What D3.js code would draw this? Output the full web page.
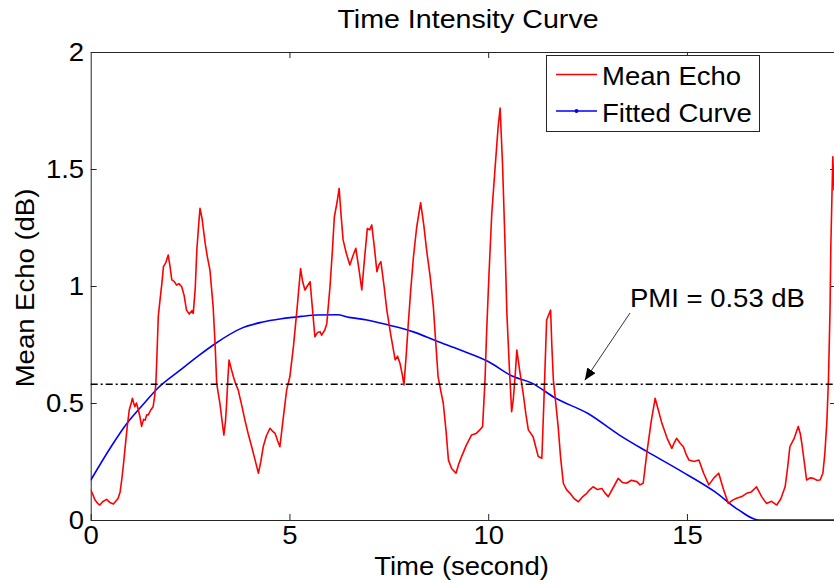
<!DOCTYPE html>
<html>
<head>
<meta charset="utf-8">
<script src="https://cdn.jsdelivr.net/npm/d3@7"></script>
<style>
  html, body { margin: 0; padding: 0; background: #fff; overflow: hidden; }
  svg text { font-family: "Liberation Sans", Arial, Helvetica, sans-serif; fill: #000; }
</style>
</head>
<body>
<svg id="chart" width="834" height="583"></svg>
<script>
// ---------- data ----------
const chartTitle = "Time Intensity Curve";
const xLabel = "Time (second)";
const yLabel = "Mean Echo (dB)";
const seriesNames = ["Mean Echo", "Fitted Curve"];
const xTicks = [0, 5, 10, 15];
const yTicks = [0, 0.5, 1, 1.5, 2];
const xDomain = [0, 18.75];
const yDomain = [0, 2];
const pmiLevel = 0.58;
const pmiText = "PMI = 0.53 dB";

const echoTime = [0.00,0.05,0.11,0.18,0.23,0.30,0.40,0.48,0.57,0.63,0.69,0.74,0.78,0.82,0.86,0.92,0.97,1.02,1.05,1.08,1.11,1.15,1.20,1.24,1.28,1.33,1.37,1.41,1.45,1.51,1.57,1.61,1.64,1.67,1.70,1.75,1.79,1.83,1.89,1.95,1.99,2.04,2.10,2.16,2.22,2.29,2.35,2.41,2.48,2.55,2.58,2.63,2.67,2.72,2.75,2.80,2.88,2.94,3.00,3.04,3.08,3.13,3.17,3.21,3.25,3.30,3.35,3.39,3.42,3.45,3.48,3.53,3.59,3.65,3.71,3.80,3.88,3.96,4.05,4.13,4.22,4.28,4.34,4.42,4.51,4.57,4.64,4.70,4.76,4.84,4.93,5.01,5.10,5.19,5.28,5.33,5.39,5.45,5.52,5.58,5.64,5.70,5.77,5.81,5.89,5.94,6.02,6.08,6.13,6.20,6.25,6.30,6.35,6.43,6.52,6.60,6.67,6.75,6.82,6.89,6.96,7.02,7.07,7.14,7.20,7.25,7.30,7.38,7.45,7.55,7.66,7.72,7.78,7.84,7.88,7.94,7.99,8.05,8.12,8.20,8.30,8.38,8.45,8.54,8.62,8.68,8.74,8.81,8.87,8.94,9.00,9.08,9.19,9.26,9.33,9.45,9.58,9.70,9.79,9.86,9.92,9.96,10.02,10.09,10.18,10.25,10.30,10.36,10.42,10.47,10.53,10.59,10.63,10.68,10.72,10.80,10.88,10.95,11.01,11.13,11.20,11.26,11.35,11.40,11.47,11.57,11.60,11.64,11.70,11.76,11.82,11.89,11.97,12.06,12.17,12.27,12.38,12.48,12.56,12.64,12.75,12.86,12.94,13.02,13.15,13.27,13.38,13.48,13.60,13.74,13.82,13.90,13.99,14.10,14.20,14.28,14.37,14.50,14.62,14.68,14.74,14.82,14.91,14.98,15.05,15.18,15.30,15.42,15.55,15.68,15.80,15.92,16.04,16.15,16.25,16.38,16.50,16.62,16.75,16.88,17.00,17.13,17.26,17.36,17.47,17.53,17.59,17.70,17.80,17.85,17.89,17.95,18.01,18.10,18.18,18.27,18.35,18.42,18.47,18.52,18.56,18.60,18.62,18.65,18.67,18.70,18.75];
const echoValue = [0.13,0.11,0.085,0.07,0.064,0.078,0.088,0.075,0.068,0.08,0.093,0.12,0.171,0.23,0.30,0.40,0.47,0.50,0.52,0.50,0.484,0.50,0.47,0.44,0.40,0.43,0.427,0.45,0.449,0.47,0.484,0.53,0.584,0.72,0.869,0.95,1.01,1.083,1.10,1.132,1.09,1.026,1.02,1.004,1.01,0.997,0.96,0.897,0.88,0.895,0.883,0.99,1.154,1.27,1.332,1.29,1.182,1.12,1.068,0.99,0.912,0.75,0.584,0.54,0.499,0.43,0.363,0.42,0.499,0.60,0.684,0.65,0.612,0.58,0.556,0.49,0.427,0.37,0.313,0.26,0.20,0.25,0.313,0.36,0.392,0.38,0.37,0.34,0.313,0.43,0.556,0.612,0.741,0.90,1.075,1.02,0.983,1.00,1.018,0.90,0.783,0.80,0.805,0.79,0.812,0.84,0.997,1.15,1.296,1.36,1.417,1.30,1.197,1.14,1.09,1.13,1.161,1.07,0.983,1.12,1.246,1.24,1.261,1.16,1.061,1.09,1.104,1.00,0.897,0.79,0.684,0.70,0.67,0.62,0.577,0.71,0.84,0.98,1.125,1.25,1.356,1.26,1.154,1.04,0.912,0.76,0.612,0.55,0.499,0.38,0.256,0.22,0.20,0.24,0.271,0.32,0.363,0.37,0.385,0.40,0.598,0.80,1.05,1.31,1.52,1.68,1.76,1.524,1.20,0.883,0.66,0.463,0.513,0.62,0.726,0.63,0.541,0.45,0.385,0.356,0.31,0.271,0.264,0.50,0.855,0.897,0.75,0.598,0.50,0.399,0.27,0.157,0.13,0.114,0.09,0.078,0.10,0.114,0.13,0.142,0.13,0.135,0.115,0.10,0.14,0.178,0.16,0.157,0.17,0.164,0.15,0.157,0.285,0.42,0.52,0.47,0.413,0.35,0.306,0.33,0.349,0.33,0.313,0.28,0.256,0.25,0.256,0.20,0.15,0.18,0.20,0.13,0.071,0.085,0.093,0.10,0.114,0.12,0.142,0.10,0.071,0.08,0.064,0.09,0.142,0.22,0.313,0.35,0.40,0.37,0.328,0.25,0.171,0.18,0.178,0.17,0.171,0.20,0.285,0.42,0.598,0.90,1.168,1.40,1.552,1.41,1.45];

const fitTime = [0,0.5,0.9,1.3,1.7,2.25,2.7,3.1,3.8,4.3,4.8,5.3,5.7,6.2,6.5,6.95,7.5,8.1,8.7,9.3,10.0,10.6,11.1,11.7,12.5,13.3,14.0,14.8,15.7,16.3,16.8,18.75];
const fitValue = [0.17,0.31,0.41,0.49,0.565,0.64,0.70,0.75,0.82,0.845,0.86,0.87,0.876,0.877,0.866,0.855,0.833,0.805,0.765,0.726,0.677,0.615,0.585,0.52,0.456,0.363,0.292,0.214,0.121,0.043,0,0];

// ---------- layout ----------
const svg = d3.select("#chart");
const plotLeft = 90.7, plotRight = 836, plotTop = 52, plotBottom = 520;
const fs = 25, sx = 1.1;
const axisColor = "#262626";

const x = d3.scaleLinear().domain(xDomain).range([plotLeft, plotRight]);
const y = d3.scaleLinear().domain(yDomain).range([plotBottom, plotTop]);

const defs = svg.append("defs");
defs.append("clipPath").attr("id", "plotclip")
  .append("rect").attr("x", plotLeft).attr("y", plotTop).attr("width", plotRight - plotLeft).attr("height", plotBottom - plotTop);

// axes
function styleAxis(g) {
  g.select(".domain").attr("stroke", axisColor).attr("stroke-width", 1);
  g.selectAll(".tick line").attr("stroke", axisColor).attr("stroke-width", 1);
  g.selectAll(".tick text").attr("font-size", fs).attr("fill", "#000")
    .attr("font-family", "'Liberation Sans', Arial, sans-serif")
    .attr("transform", `scale(${sx},1)`);
}
const fmt = d => String(d);
svg.append("g").attr("transform", `translate(0,${plotBottom})`)
  .call(d3.axisBottom(x).tickValues(xTicks).tickFormat(fmt).tickSizeInner(-6).tickSizeOuter(0).tickPadding(6))
  .call(styleAxis);
svg.append("g").attr("transform", `translate(0,${plotTop})`)
  .call(d3.axisTop(x).tickValues(xTicks.filter(d => d > 0)).tickFormat("").tickSizeInner(-6).tickSizeOuter(0))
  .call(styleAxis);
svg.append("g").attr("transform", `translate(${plotLeft},0)`)
  .call(d3.axisLeft(y).tickValues(yTicks).tickFormat(fmt).tickSizeInner(-6).tickSizeOuter(0).tickPadding(6))
  .call(styleAxis);
svg.append("g").attr("transform", `translate(${plotRight},0)`)
  .call(d3.axisRight(y).tickValues(yTicks.filter(d => d > 0 && d < 2)).tickFormat("").tickSizeInner(-6).tickSizeOuter(0))
  .call(styleAxis);

// data lines
const plot = svg.append("g").attr("clip-path", "url(#plotclip)");
const echoData = echoTime.map((t, i) => [t, echoValue[i]]);
const fitData = fitTime.map((t, i) => [t, fitValue[i]]);
const line = d3.line().x(d => x(d[0])).y(d => y(d[1]));
const smoothLine = d3.line().x(d => x(d[0])).y(d => y(d[1])).curve(d3.curveMonotoneX);

plot.append("path").datum(fitData).attr("d", smoothLine)
  .attr("fill", "none").attr("stroke", "#0000ff").attr("stroke-width", 1.6);
plot.append("path").datum(echoData).attr("d", line)
  .attr("fill", "none").attr("stroke", "#ff0000").attr("stroke-width", 1.6).attr("stroke-linejoin", "round");

// PMI dash-dot line
svg.append("line")
  .attr("x1", plotLeft).attr("x2", plotRight).attr("y1", y(pmiLevel)).attr("y2", y(pmiLevel))
  .attr("stroke", "#000").attr("stroke-width", 1.5).attr("stroke-dasharray", "7,3,2,3");

// title & labels
function addText(txt, px, py, anchor, size, rot) {
  const g = svg.append("g").attr("transform", `translate(${px},${py})` + (rot ? ` rotate(${rot})` : ""));
  g.append("text").attr("text-anchor", anchor).attr("font-size", size)
    .attr("transform", `scale(${sx},1)`).text(txt);
  return g;
}
addText(chartTitle, 468, 28, "middle", 26);
addText(xLabel, 461.5, 575, "middle", fs);
addText(yLabel, 33.5, 288, "middle", fs, -90);

// PMI annotation
addText(pmiText, 630, 306.5, "start", fs);
defs.append("marker").attr("id", "arrowhead")
  .attr("viewBox", "0 0 12 10").attr("refX", 12).attr("refY", 5)
  .attr("markerWidth", 12).attr("markerHeight", 10).attr("markerUnits", "userSpaceOnUse")
  .attr("orient", "auto")
  .append("path").attr("d", "M0,0 L12,5 L0,10 Z").attr("fill", "#000");
svg.append("line").attr("x1", 630).attr("y1", 313).attr("x2", x(12.43)).attr("y2", y(pmiLevel) - 4)
  .attr("stroke", "#333").attr("stroke-width", 1).attr("marker-end", "url(#arrowhead)");

// legend
const lg = svg.append("g");
lg.append("rect").attr("x", 546.5).attr("y", 55.5).attr("width", 213).attr("height", 76)
  .attr("fill", "#fff").attr("stroke", axisColor).attr("stroke-width", 1);
const legendColors = ["#ff0000", "#0000ff"];
const legendY = [74.5, 111];
seriesNames.forEach((name, i) => {
  lg.append("line").attr("x1", 556).attr("x2", 597).attr("y1", legendY[i]).attr("y2", legendY[i])
    .attr("stroke", legendColors[i]).attr("stroke-width", 1.6);
  if (i === 1) lg.append("circle").attr("cx", 576.5).attr("cy", legendY[i]).attr("r", 2).attr("fill", legendColors[i]);
  const g = lg.append("g").attr("transform", `translate(602,${legendY[i] + 10.5})`);
  g.append("text").attr("font-size", fs).attr("transform", `scale(${sx},1)`).text(name);
});
</script>
</body>
</html>
